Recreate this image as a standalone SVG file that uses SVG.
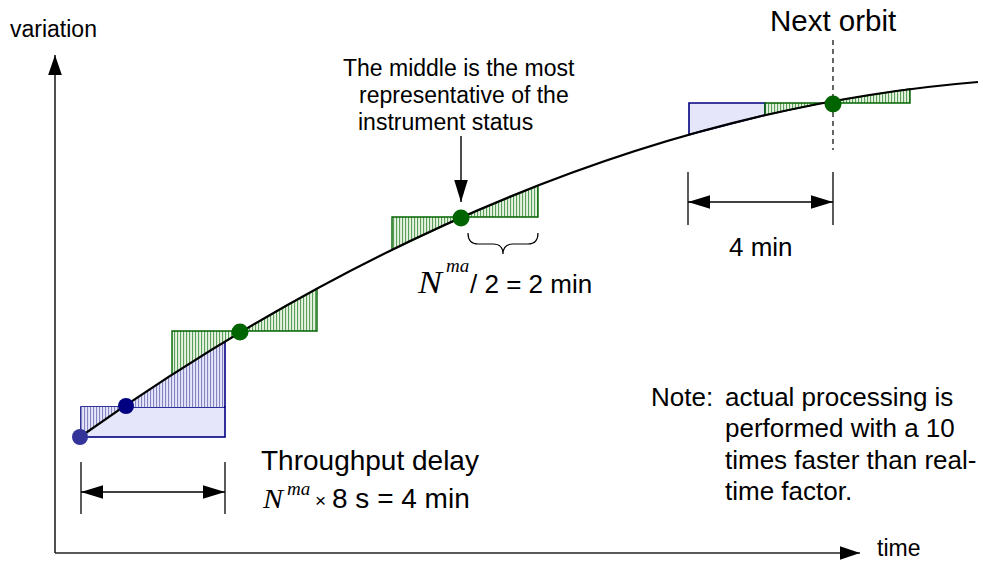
<svg xmlns="http://www.w3.org/2000/svg" width="983" height="561" viewBox="0 0 983 561">
<style>
.t{font-family:"Liberation Sans",Arial,sans-serif;fill:#000}
.it{font-family:"Liberation Serif","Times New Roman",serif;font-style:italic;fill:#000}
.ax{stroke:#222;stroke-width:1.6;fill:none}
.dim{stroke:#000;stroke-width:1.4;fill:none}
.tick{stroke:#333;stroke-width:1.6}
.bl{fill:#e6e6fa;stroke:#000080;stroke-width:1.6}
.blh{fill:url(#hb);stroke:none}
.gr{fill:url(#hg);stroke:#006400;stroke-width:1.4;stroke-linejoin:miter}
</style>
<defs>
<pattern id="hb" width="3" height="10" patternUnits="userSpaceOnUse"><rect width="3" height="10" fill="#e6e6fa"/><rect width="1.1" height="10" fill="#8585c2"/></pattern>
<pattern id="hg" width="3" height="10" patternUnits="userSpaceOnUse"><rect width="3" height="10" fill="#e8f3e2"/><rect width="1.1" height="10" fill="#5a9f5a"/></pattern>
<marker id="ah" markerUnits="userSpaceOnUse" markerWidth="22" markerHeight="14" viewBox="0 0 21 13" refX="21" refY="6.5" orient="auto-start-reverse"><path d="M0,0 L21,6.5 L0,13 z" fill="#000"/></marker>
<marker id="axh" markerUnits="userSpaceOnUse" markerWidth="20" markerHeight="14" viewBox="0 0 19 13" refX="19" refY="6.5" orient="auto"><path d="M0,0 L19,6.5 L0,13 z" fill="#000"/></marker>
</defs>
<rect width="983" height="561" fill="#fff"/>

<g id="connectors">
<path class="ax" d="M55,553 L55,55" marker-end="url(#axh)"/>
<path class="ax" d="M55,553 L860,553" marker-end="url(#axh)"/>
<line class="tick" x1="81" y1="462" x2="81" y2="514"/>
<line class="tick" x1="225" y1="462" x2="225" y2="514"/>
<path class="dim" d="M81,492 L225,492" marker-start="url(#ah)" marker-end="url(#ah)"/>
<line class="tick" x1="688" y1="172" x2="688" y2="225"/>
<line class="tick" x1="833" y1="172" x2="833" y2="225"/>
<path class="dim" d="M688,202 L833,202" marker-start="url(#ah)" marker-end="url(#ah)"/>
<line x1="833" y1="40" x2="833" y2="150" stroke="#000" stroke-width="1.2" stroke-dasharray="5,4"/>
<path class="dim" d="M461,136 L461,202" marker-end="url(#ah)"/>
<path d="M468,233 Q468,244 478,244 L493,244 Q503,244 503,254 Q503,244 513,244 L528,244 Q538,244 538,233" fill="none" stroke="#000" stroke-width="1.2"/>
</g>

<g id="window-start">
<rect class="bl" x="81" y="407" width="144" height="30"/>
<path class="blh" d="M81,407 L224,407 L224,342.1 Q152.5,385.6 81,436.3 Z"/>
<line x1="225" y1="342" x2="225" y2="407" stroke="#000080" stroke-width="1.6"/>
</g>

<g id="window-2">
<path class="gr" d="M172,331 L242,331 L172,374.8 Z"/>
<path class="gr" d="M242,331 L317,331 L317,288.6 Z"/>
</g>

<g id="window-middle">
<path class="gr" d="M392,217 L462,217 L392,249.8 Z"/>
<path class="gr" d="M462,217 L538,217 L538,185.5 Z"/>
</g>

<g id="window-next">
<path class="bl" d="M689,103 L765,103 L765,115.1 L689,134.6 Z"/>
<path class="gr" d="M765,103 L822,103 L765,115.1 Z"/>
<path class="gr" d="M822,103 L910,103 L910,88.9 Z"/>
</g>

<g id="curve">
<path d="M80,437 Q529,118.7 978,82" fill="none" stroke="#000" stroke-width="2.2"/>
</g>

<g id="dots">
<circle cx="80" cy="437" r="8" fill="#333399"/>
<circle cx="126" cy="406" r="8" fill="#000080"/>
<circle cx="240" cy="332" r="8.5" fill="#006400"/>
<circle cx="461" cy="218" r="8.5" fill="#006400"/>
<circle cx="833" cy="104" r="8.5" fill="#006400"/>
</g>

<g id="labels">
<text class="t" x="10" y="37" font-size="23">variation</text>
<text class="t" x="877" y="556" font-size="23">time</text>
<text class="t" x="770" y="31" font-size="29.5">Next orbit</text>
<text class="t" x="343" y="76" font-size="23">The middle is the most</text>
<text class="t" x="359" y="103" font-size="23">representative of the</text>
<text class="t" x="358" y="130" font-size="23">instrument status</text>
<text class="it" x="418" y="293" font-size="31" textLength="24" lengthAdjust="spacingAndGlyphs">N</text>
<text class="it" x="446" y="272" font-size="19">ma</text>
<text class="t" x="470" y="293" font-size="26">/ 2 = 2 min</text>
<text class="t" x="729" y="256" font-size="26">4 min</text>
<text class="t" x="261" y="470" font-size="28">Throughput delay</text>
<text class="it" x="263" y="508" font-size="28" textLength="20" lengthAdjust="spacingAndGlyphs">N</text>
<text class="it" x="287" y="495" font-size="19">ma</text>
<text class="t" x="315" y="507" font-size="19">×</text>
<text class="t" x="332" y="508" font-size="28">8 s = 4 min</text>
<text class="t" x="651" y="406" font-size="26">Note:</text>
<text class="t" x="725" y="406" font-size="26">actual processing is</text>
<text class="t" x="725" y="437" font-size="26">performed with a 10</text>
<text class="t" x="725" y="469" font-size="26">times faster than real-</text>
<text class="t" x="725" y="500" font-size="26">time factor.</text>
</g>
</svg>
